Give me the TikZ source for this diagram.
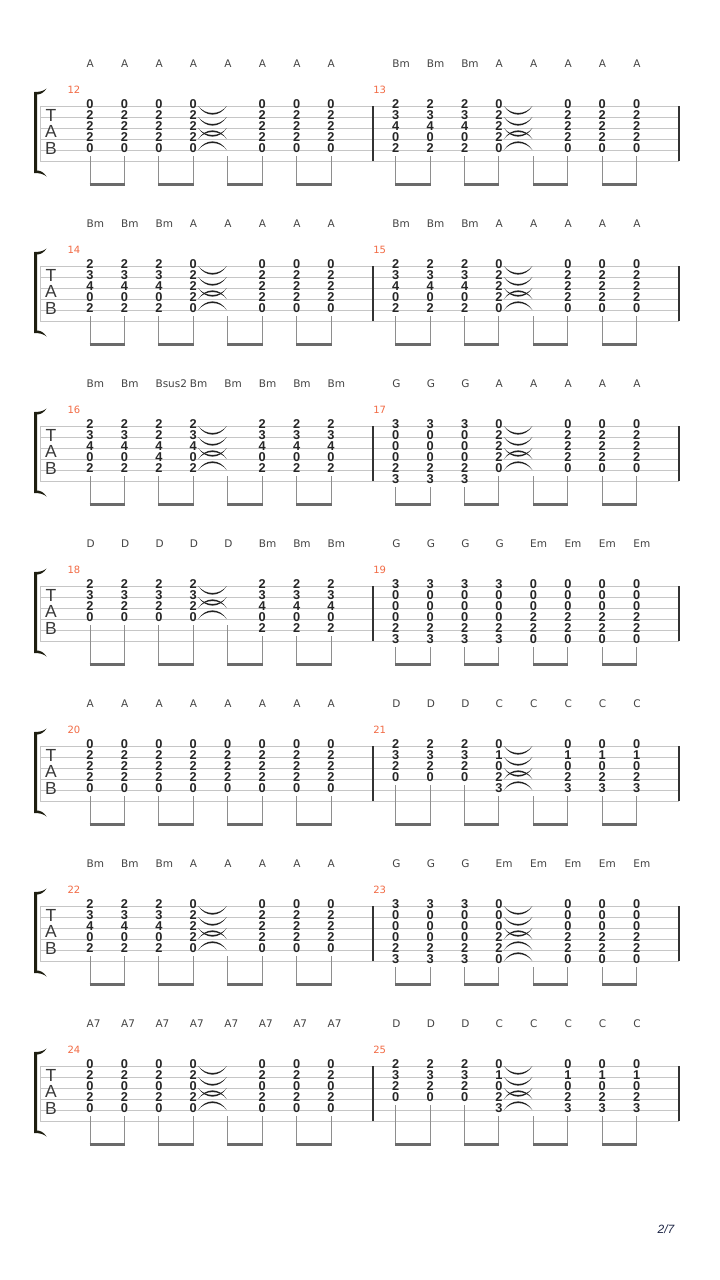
\documentclass[tikz,border=0pt]{standalone}
\usepackage{fontspec}
\setmainfont{DejaVu Sans}
\newfontfamily\fretfont{Liberation Sans}
\definecolor{staffgray}{HTML}{C6C6C6}
\definecolor{bargray}{HTML}{333333}
\definecolor{stemgray}{HTML}{8E8E8E}
\definecolor{beamgray}{HTML}{6A6A6A}
\definecolor{tieblack}{HTML}{222222}
\definecolor{chordgray}{HTML}{444444}
\definecolor{fretblack}{HTML}{262626}
\definecolor{measorange}{HTML}{F26B45}
\definecolor{tabgray}{HTML}{3A3A3A}
\definecolor{bracketcol}{HTML}{1E1E10}
\definecolor{pagenavy}{HTML}{1C2444}
\tikzstyle{chordname} = [anchor=west, inner sep=0pt, text=chordgray, font=\fontsize{10.5}{12}\selectfont]
\tikzstyle{fret} = [inner sep=0pt, text=fretblack, font=\fretfont\bfseries\fontsize{12.8}{13}\selectfont]
\tikzstyle{measnum} = [inner sep=0pt, text=measorange, font=\fontsize{10}{12}\selectfont]
\tikzstyle{tabletter} = [inner sep=0pt, text=tabgray, font=\fretfont\fontsize{17.5}{18}\selectfont]
\tikzstyle{staffline} = [draw=staffgray, line width=0.8pt]
\tikzstyle{barline} = [draw=bargray, line width=1.3pt]
\tikzstyle{stemline} = [draw=stemgray, line width=1pt]
\tikzstyle{beam} = [draw=beamgray, line width=2.6pt]
\tikzstyle{tiefill} = [fill=tieblack]

\newcommand\defchord[3]{\expandafter\def\csname tabch#1\endcsname{#2}\expandafter\def\csname tabn#1\endcsname{#3}}
\defchord{A}{1/0,2/2,3/2,4/2,5/0}{5}
\defchord{Bm}{1/2,2/3,3/4,4/0,5/2}{5}
\defchord{Bsus2}{1/2,2/2,3/4,4/4,5/2}{5}
\defchord{G}{1/3,2/0,3/0,4/0,5/2,6/3}{6}
\defchord{D}{1/2,2/3,3/2,4/0}{4}
\defchord{Em}{1/0,2/0,3/0,4/2,5/2,6/0}{6}
\defchord{C}{1/0,2/1,3/0,4/2,5/3}{5}
\defchord{A7}{1/0,2/2,3/0,4/2,5/0}{5}

% #1 system, #2 half, #3 number, #4 chords, #5 tie after 4th
\newcommand\tabmeasure[5]{
	\pgfmathsetmacro\ytop{106+160*#1}
	\pgfmathsetmacro\xzero{90+305.7*#2}
	\node [measnum] (m#3) at (\xzero-16,\ytop-16) {#3};
	\foreach \ch [count=\i from 0] in {#4} {
		\pgfmathsetmacro\cx{\xzero+34.43*\i}
		\edef\cur{\csname tabch\ch\endcsname}
		\edef\nstr{\csname tabn\ch\endcsname}
		\node [chordname] (c#3-\i) at (\cx-3.5,\ytop-42) {\ch};
		\ifnum\i=4 \ifnum#5=1 \def\cur{} \fi\fi
		\foreach \s/\f in \cur {
			\node [fret] at (\cx,\ytop+11*\s-12.5) {\f};
		}
		\ifnum\i=3 \ifnum#5=1
			\pgfmathtruncatemacro\half{ceil(\nstr/2)}
			\foreach \s in {1,...,\nstr} {
				\pgfmathsetmacro\yy{\ytop+11*(\s-1)}
				\ifnum\s>\half
					\fill [tiefill] (\cx+5,\yy) .. controls (\cx+12,\yy-11.5) and (\cx+26.4,\yy-11.5) .. (\cx+33.4,\yy) .. controls (\cx+26.4,\yy-9.3) and (\cx+12,\yy-9.3) .. (\cx+5,\yy);
				\else
					\fill [tiefill] (\cx+5,\yy) .. controls (\cx+12,\yy+11.5) and (\cx+26.4,\yy+11.5) .. (\cx+33.4,\yy) .. controls (\cx+26.4,\yy+9.3) and (\cx+12,\yy+9.3) .. (\cx+5,\yy);
				\fi
			}
		\fi\fi
		\draw [stemline] (\cx,\ytop+11*\nstr-5) -- (\cx,\ytop+78);
		\ifodd\i \draw [beam] (\cx-34.43-0.5,\ytop+78.5) -- (\cx+0.5,\ytop+78.5); \fi
	}
}

\begin{document}
\begin{tikzpicture}[x=1pt, y=-1pt]
	\fill [white] (0,0) rectangle (720,1280);
	\useasboundingbox (0,0) rectangle (720,1280);

	\foreach \sy in {0,...,6} {
		\pgfmathsetmacro\ytop{106+160*\sy}
		\foreach \k in {0,...,5}
			\draw [staffline] (40,\ytop+11*\k) -- (679,\ytop+11*\k);
		\draw [staffline] (40,\ytop) -- (40,\ytop+55);
		\draw [barline] (373,\ytop) -- (373,\ytop+55);
		\draw [barline] (679,\ytop) -- (679,\ytop+55);
		\fill [bracketcol] (34.2,\ytop-14) .. controls (40,\ytop-14) and (43.5,\ytop-15) .. (46.5,\ytop-17.5) .. controls (44,\ytop-13.5) and (40.5,\ytop-11.5) .. (37.2,\ytop-11.5) -- (37.2,\ytop+64.5) .. controls (40.5,\ytop+64.5) and (44,\ytop+66.5) .. (46.5,\ytop+70.5) .. controls (43.5,\ytop+68) and (40,\ytop+67) .. (34.2,\ytop+67) -- cycle;
		\node [tabletter] (t\sy) at (51,\ytop+9.5) {T};
		\node [tabletter] (a\sy) at (51,\ytop+25.5) {A};
		\node [tabletter] (b\sy) at (51,\ytop+42.5) {B};
	}

	\tabmeasure{0}{0}{12}{A,A,A,A,A,A,A,A}{1}
	\tabmeasure{0}{1}{13}{Bm,Bm,Bm,A,A,A,A,A}{1}
	\tabmeasure{1}{0}{14}{Bm,Bm,Bm,A,A,A,A,A}{1}
	\tabmeasure{1}{1}{15}{Bm,Bm,Bm,A,A,A,A,A}{1}
	\tabmeasure{2}{0}{16}{Bm,Bm,Bsus2,Bm,Bm,Bm,Bm,Bm}{1}
	\tabmeasure{2}{1}{17}{G,G,G,A,A,A,A,A}{1}
	\tabmeasure{3}{0}{18}{D,D,D,D,D,Bm,Bm,Bm}{1}
	\tabmeasure{3}{1}{19}{G,G,G,G,Em,Em,Em,Em}{0}
	\tabmeasure{4}{0}{20}{A,A,A,A,A,A,A,A}{0}
	\tabmeasure{4}{1}{21}{D,D,D,C,C,C,C,C}{1}
	\tabmeasure{5}{0}{22}{Bm,Bm,Bm,A,A,A,A,A}{1}
	\tabmeasure{5}{1}{23}{G,G,G,Em,Em,Em,Em,Em}{1}
	\tabmeasure{6}{0}{24}{A7,A7,A7,A7,A7,A7,A7,A7}{1}
	\tabmeasure{6}{1}{25}{D,D,D,C,C,C,C,C}{1}

	\node [inner sep=0pt, text=pagenavy, font=\fretfont\itshape\fontsize{12}{14}\selectfont] (page) at (666,1229) {2/7};
\end{tikzpicture}
\end{document}
